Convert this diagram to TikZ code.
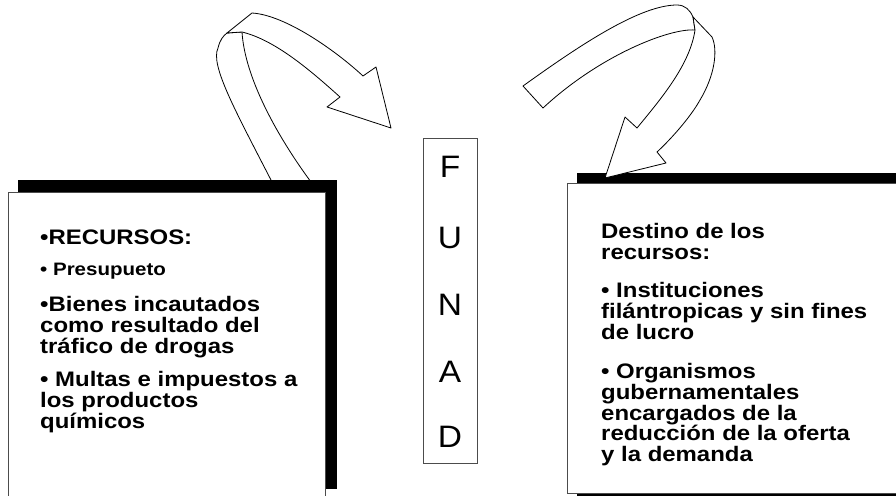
\documentclass[tikz,border=0pt]{standalone}
\usepackage{fontspec}
\setmainfont{Liberation Sans}
\newfontfamily\boxfont[FakeStretch=1.14]{Liberation Sans}
\newfontfamily\funadfont[FakeStretch=1.08]{Liberation Sans}
\begin{document}
\begin{tikzpicture}[x=1pt,y=-1pt,
  arrowband/.style={draw=black,fill=white,line width=0.8pt,line join=round},
  shadowbox/.style={fill=black,draw=none},
  whitebox/.style={fill=white,draw=black!70,line width=0.9pt},
  txt/.style={anchor=base west,inner sep=0pt,align=left,font=\boxfont\bfseries\fontsize{21}{21.2}\selectfont},
  letter/.style={anchor=base,inner sep=0pt,font=\funadfont\fontsize{31}{31}\selectfont}]
\useasboundingbox (0,0) rectangle (896,495);
\clip (0,0) rectangle (896,495);
% left curved arrow (back strip and front with head)
\draw[arrowband] (272,182) .. controls (235,110) and (210,65) .. (218,48)
  .. controls (220,40) and (223,36) .. (227,33) -- (242,32)
  .. controls (245,80) and (280,140) .. (311,182) -- cycle;
\draw[arrowband] (227,33) -- (252,13) .. controls (285,15) and (335,50) .. (363,76)
  -- (376,67) -- (391,128) -- (327,107) -- (340,97)
  .. controls (310,70) and (275,40) .. (242,32) -- cycle;
% shadows
\node[shadowbox,minimum width=319pt,minimum height=309pt,anchor=north west,inner sep=0pt] (lshadow) at (18,180) {};
\node[shadowbox,minimum width=330pt,minimum height=330pt,anchor=north west,inner sep=0pt] (rshadow) at (577,173) {};
% right curved arrow
\draw[arrowband] (523,86) .. controls (580,45) and (640,5) .. (677,5)
  .. controls (685,5) and (690,10) .. (693,17) -- (695,30)
  .. controls (670,28) and (600,55) .. (543,108) -- cycle;
\draw[arrowband] (693,17) -- (712,37) .. controls (718,50) and (715,75) .. (700,100)
  .. controls (690,118) and (670,140) .. (657,152) -- (666,163) -- (605,178)
  -- (625,117) -- (637,128) .. controls (660,100) and (690,65) .. (695,30) -- cycle;
% white boxes
\node[whitebox,minimum width=317pt,minimum height=320pt,anchor=north west,inner sep=0pt] (lbox) at (8,192) {};
\node[whitebox,minimum width=340pt,minimum height=310pt,anchor=north west,inner sep=0pt] (rbox) at (567,183) {};
\node[whitebox,minimum width=54pt,minimum height=325pt,anchor=north west,inner sep=0pt] (funad) at (423,138) {};
% FUNAD letters
\node[letter] (lF) at (450,177) {F};
\node[letter] (lU) at (450,248) {U};
\node[letter] (lN) at (450,315) {N};
\node[letter] (lA) at (450,382) {A};
\node[letter] (lD) at (450,447) {D};
% left text (anchor = baseline of last line)
\node[txt] (t1) at (40,244) {•RECURSOS:};
\node[txt,font=\boxfont\bfseries\fontsize{18}{18}\selectfont] (t2) at (40,275.5) {• Presupueto};
\node[txt] (t3) at (40,353.4) {•Bienes incautados\\como resultado del\\tráfico de drogas};
\node[txt,font=\boxfont\bfseries\fontsize{21}{19}\selectfont] (t4) at (40,428) {• Multas e impuestos a\\los productos\\químicos};
% right text
\node[txt] (r1) at (601,259.2) {Destino de los\\recursos:};
\node[txt] (r2) at (601,339.9) {• Instituciones\\filántropicas y sin fines\\de lucro};
\node[txt,font=\boxfont\bfseries\fontsize{21}{20.8}\selectfont] (r3) at (601,461.7) {• Organismos\\gubernamentales\\encargados de la\\reducción de la oferta\\y la demanda};
\end{tikzpicture}
\end{document}
